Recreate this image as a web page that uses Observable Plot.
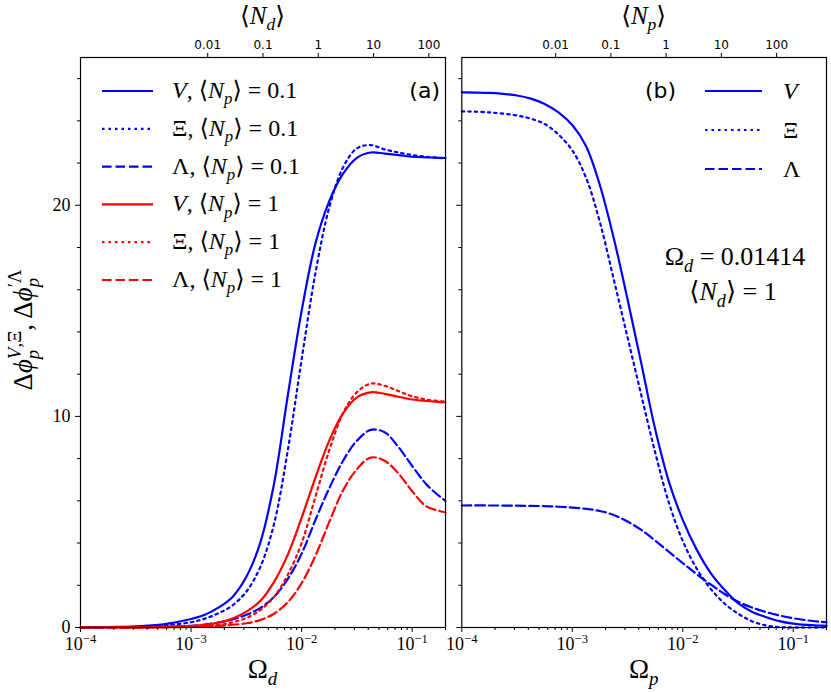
<!DOCTYPE html>
<html><head><meta charset="utf-8">
<script src="https://cdn.jsdelivr.net/npm/d3@7"></script>
<script src="https://cdn.jsdelivr.net/npm/@observablehq/plot@0.6"></script>
<style>
body{margin:0;background:#fff;}
#fig{position:relative;width:831px;height:692px;overflow:hidden;background:#fff;}
#fig svg{position:absolute;top:0;}
</style></head><body><div id="fig"></div>
<script>
// ---------------- data ----------------
// panel (a): x = log10(Omega_d)
const logOmegaA = [-4, -3.75, -3.5, -3.25, -3, -2.875, -2.75, -2.625, -2.5, -2.375, -2.25, -2.125, -2, -1.875, -1.75, -1.625, -1.5, -1.375, -1.25, -1.125, -1, -0.875, -0.75, -0.699];
const V_Np01      = [0.0, 0.02, 0.05, 0.15, 0.4, 0.6, 0.95, 1.45, 2.4, 4.0, 6.8, 11.0, 15.0, 18.2, 20.2, 21.5, 22.25, 22.5, 22.45, 22.38, 22.3, 22.27, 22.25, 22.24];
const Xi_Np01     = [0.0, 0.01, 0.03, 0.1, 0.25, 0.42, 0.68, 1.05, 1.7, 2.85, 4.9, 8.4, 12.7, 16.8, 19.9, 21.8, 22.7, 22.85, 22.65, 22.5, 22.38, 22.3, 22.24, 22.22];
const Lambda_Np01 = [0.0, 0.003, 0.01, 0.03, 0.08, 0.14, 0.24, 0.38, 0.6, 0.92, 1.45, 2.3, 3.5, 5.1, 6.6, 7.9, 8.85, 9.36, 9.25, 8.55, 7.65, 6.8, 6.2, 6.0];
const V_Np1       = [0.0, 0.002, 0.01, 0.03, 0.07, 0.13, 0.23, 0.42, 0.75, 1.25, 2.15, 3.45, 5.2, 7.1, 8.85, 10.15, 10.9, 11.14, 11.07, 10.93, 10.8, 10.73, 10.68, 10.67];
const Xi_Np1      = [0.0, 0.001, 0.005, 0.02, 0.04, 0.07, 0.12, 0.25, 0.45, 0.82, 1.45, 2.5, 4.0, 6.2, 8.4, 10.15, 11.15, 11.55, 11.45, 11.2, 10.95, 10.8, 10.72, 10.7];
const Lambda_Np1  = [0.0, 0.001, 0.003, 0.01, 0.03, 0.05, 0.08, 0.13, 0.2, 0.35, 0.65, 1.2, 2.1, 3.4, 5.0, 6.5, 7.5, 8.05, 7.9, 7.3, 6.45, 5.75, 5.52, 5.46];
// panel (b): x = log10(Omega_p)
const logOmegaB = [-4, -3.75, -3.5, -3.375, -3.25, -3.125, -3, -2.875, -2.75, -2.625, -2.5, -2.375, -2.25, -2.125, -2, -1.875, -1.75, -1.625, -1.5, -1.375, -1.25, -1.125, -1, -0.875, -0.75, -0.699];
const V_b      = [25.35, 25.32, 25.2, 25.05, 24.8, 24.4, 23.8, 22.8, 20.95, 18.45, 15.55, 12.5, 9.4, 6.9, 5.1, 3.7, 2.6, 1.8, 1.15, 0.75, 0.5, 0.3, 0.18, 0.12, 0.09, 0.08];
const Xi_b     = [24.45, 24.4, 24.25, 24.1, 23.85, 23.35, 22.6, 21.3, 19.2, 16.5, 13.75, 11.0, 8.3, 5.9, 4.1, 2.8, 1.85, 1.15, 0.66, 0.3, 0.1, 0.02, 0.0, 0.0, 0.0, 0.0];
const Lambda_b = [5.78, 5.78, 5.77, 5.76, 5.75, 5.72, 5.68, 5.62, 5.52, 5.33, 5.02, 4.62, 4.12, 3.58, 3.05, 2.53, 2.05, 1.6, 1.22, 0.95, 0.74, 0.57, 0.44, 0.34, 0.27, 0.25];
// axes
const xDomain = [1e-4, 0.2];
const yDomain = [0, 27];
const majorX = [1e-4, 1e-3, 1e-2, 1e-1];
const minorX = [2,3,4,5,6,7,8,9].flatMap(m => [1e-4, 1e-3, 1e-2, 1e-1].map(d => m * d)).filter(v => v <= 0.2);
const majorY = [0, 10, 20];
const minorY = [2, 4, 6, 8, 12, 14, 16, 18, 22, 24, 26];
const NTicks = [0.01, 0.1, 1, 10, 100];
const NTickLabels = ["0.01", "0.1", "1", "10", "100"];
const OMEGA_D_AT_ND1 = 0.01414;   // <N_d> = (Omega_d / 0.01414)^2
const OMEGA_P_AT_NP1 = 0.00707;   // <N_p> = (Omega_p / 0.00707)^2

const BLUE = "#0000ff", RED = "#ff0000";
const SOLID = null, DOTTED = "2.5,4", DASHED = "9.5,4";
const SERIF = "'Liberation Serif', 'DejaVu Serif', serif";
const SANS = "'DejaVu Sans', sans-serif";

const seriesA = [
  {y: V_Np01, color: BLUE, dash: SOLID, label: "*V*, ⟨*N*_{*p*}⟩ = 0.1"},
  {y: Xi_Np01, color: BLUE, dash: DOTTED, label: "Ξ, ⟨*N*_{*p*}⟩ = 0.1"},
  {y: Lambda_Np01, color: BLUE, dash: DASHED, label: "Λ, ⟨*N*_{*p*}⟩ = 0.1"},
  {y: V_Np1, color: RED, dash: SOLID, label: "*V*, ⟨*N*_{*p*}⟩ = 1"},
  {y: Xi_Np1, color: RED, dash: DOTTED, label: "Ξ, ⟨*N*_{*p*}⟩ = 1"},
  {y: Lambda_Np1, color: RED, dash: DASHED, label: "Λ, ⟨*N*_{*p*}⟩ = 1"}
];
const seriesB = [
  {y: V_b, color: BLUE, dash: SOLID, label: "*V*"},
  {y: Xi_b, color: BLUE, dash: DOTTED, label: "Ξ"},
  {y: Lambda_b, color: BLUE, dash: DASHED, label: "Λ"}
];

function rows(logs, ys) { return logs.map((l, i) => ({x: Math.pow(10, l), y: ys[i]})); }

function panel({width, marginLeft, logs, series, omega1, yLabels}) {
  const topTicks = NTicks.map(n => omega1 * Math.sqrt(n));
  return Plot.plot({
    width, height: 692, marginLeft, marginRight: 5, marginTop: 57, marginBottom: 65,
    style: {background: "transparent", overflow: "visible", fontFamily: SERIF},
    x: {type: "log", domain: xDomain, label: null},
    y: {domain: yDomain, label: null},
    marks: [
      ...series.map(s => Plot.line(rows(logs, s.y), {x: "x", y: "y", stroke: s.color, strokeWidth: 2.2, strokeDasharray: s.dash, curve: "catmull-rom"})),
      Plot.frame({stroke: "black", strokeWidth: 1.2}),
      Plot.axisX({anchor: "bottom", ticks: majorX, tickSize: 5, tickPadding: 5, fontSize: 18, fontFamily: SERIF,
        tickFormat: d => `10^{−${-Math.round(Math.log10(d))}}`, label: null}),
      Plot.axisX({anchor: "bottom", ticks: minorX, tickSize: 3, tickFormat: () => "", label: null}),
      Plot.axisX({anchor: "top", ticks: topTicks, tickSize: 5, tickFormat: () => "", label: null}),
      Plot.text(topTicks, {x: d => d, text: (d, i) => NTickLabels[i], frameAnchor: "top", dy: -9, lineAnchor: "bottom",
        fontSize: 12, fontFamily: SANS, fill: "black"}),
      Plot.axisY({anchor: "left", ticks: majorY, tickSize: 5, tickPadding: 5, fontSize: 18, fontFamily: SERIF,
        tickFormat: yLabels ? (d => String(d)) : (() => ""), label: null}),
      Plot.axisY({anchor: "left", ticks: minorY, tickSize: 3, tickFormat: () => "", label: null})
    ]
  });
}

// ---------------- rich text (sub/superscripts) ----------------
const svgNS = "http://www.w3.org/2000/svg";
const BRACKET_FONT = "'DejaVu Sans', sans-serif";
function parseRich(str) {
  const segs = [], groups = [];
  let italic = false, i = 0;
  function push(t, level) { if (t) segs.push({text: t, level, italic}); }
  function parse(level, inBrace) {
    let buf = "";
    while (i < str.length) {
      const c = str[i];
      if (c === "}" && inBrace) { i++; break; }
      if (c === "*") { push(buf, level); buf = ""; italic = !italic; i++; continue; }
      if ((c === "_" || c === "^") && str[i + 1] === "{") {
        push(buf, level); buf = "";
        i += 2;
        const g = {start: segs.length, type: c};
        parse(c === "^" ? 1 : -1, true);
        g.end = segs.length;
        groups.push(g);
        continue;
      }
      buf += c; i++;
    }
    push(buf, level);
  }
  parse(0, false);
  return {segs, groups};
}
function richify(el) {
  const str = el.textContent;
  if (!/[_^*⟨⟩]/.test(str)) return;
  const {segs, groups} = parseRich(str);
  el.textContent = "";
  const fs = parseFloat(getComputedStyle(el).fontSize);
  let cur = 0;
  segs.forEach(s => {
    const target = s.level === 1 ? -0.42 * fs : s.level === -1 ? 0.26 * fs : 0;
    const dy = target - cur;
    cur = target;
    s.nodes = [];
    s.text.split(/([⟨⟩])/).filter(p => p).forEach((p, k) => {
      const t = document.createElementNS(svgNS, "tspan");
      t.textContent = p;
      if (s.level) t.setAttribute("font-size", (fs * 0.7).toFixed(2));
      if (s.italic) t.setAttribute("font-style", "italic");
      if (p === "⟨" || p === "⟩") t.setAttribute("font-family", BRACKET_FONT);
      if (k === 0 && Math.abs(dy) > 1e-6) t.setAttribute("dy", dy.toFixed(2));
      el.appendChild(t);
      s.nodes.push(t);
    });
  });
  const w = g => { let s = 0; for (let k = g.start; k < g.end; k++) segs[k].nodes.forEach(n => s += n.getComputedTextLength()); return s; };
  for (let g = 1; g < groups.length; g++) {
    const A = groups[g - 1], B = groups[g];
    if (A.end === B.start && A.type !== B.type && B.end > B.start) {
      const wA = w(A), wB = w(B);
      segs[B.start].nodes[0].setAttribute("dx", (-wA).toFixed(2));
      if (wA > wB && segs[B.end]) segs[B.end].nodes[0].setAttribute("dx", (wA - wB).toFixed(2));
    }
  }
}

// ---------------- build ----------------
const fig = document.getElementById("fig");
const offB = 431;
const chartA = panel({width: 450, marginLeft: 80, logs: logOmegaA, series: seriesA, omega1: OMEGA_D_AT_ND1, yLabels: true});
const chartB = panel({width: 831 - offB, marginLeft: 461.3 - offB, logs: logOmegaB, series: seriesB, omega1: OMEGA_P_AT_NP1, yLabels: false});
chartA.style.left = "0px";
chartB.style.left = offB + "px";
fig.appendChild(chartA);
fig.appendChild(chartB);

// overlay for axis titles, legends, annotations
const ov = d3.select(fig).append("svg")
  .attr("width", 831).attr("height", 692)
  .style("left", "0px").style("pointer-events", "none");

const xa = chartA.scale("x").range, xb = chartB.scale("x").range.map(v => v + offB);
const cA = (xa[0] + xa[1]) / 2, cB = (xb[0] + xb[1]) / 2;

function label(x, y, txt, size, opts = {}) {
  const t = ov.append("text").attr("x", x).attr("y", y).attr("font-size", size)
    .attr("font-family", opts.family || SERIF)
    .attr("text-anchor", opts.anchor || "middle").attr("fill", "black").text(txt);
  if (opts.transform) t.attr("transform", opts.transform).attr("x", 0).attr("y", 0);
  return t;
}
// axis titles
label(cA, 678, "Ω_{*d*}", 27);
label(cB, 678, "Ω_{*p*}", 27);
label(cA, 23.5, "⟨*N*_{*d*}⟩", 25);
label(cB, 23.5, "⟨*N*_{*p*}⟩", 25);
label(0, 0, "Δ*ϕ*_{*p*}^{*V*,Ξ}, Δ*ϕ*^{′Λ}_{*p*}", 27, {transform: "translate(32,330) rotate(-90)"});
// panel tags
label(440, 98, "(a)", 22, {anchor: "end", family: SANS});
label(645, 98, "(b)", 22, {anchor: "start", family: SANS});
// annotation
label(735, 265, "Ω_{*d*} = 0.01414", 26);
label(733, 300, "⟨*N*_{*d*}⟩ = 1", 26);

// legends
function legend(items, x0, x1, tx, y0, dy, size, base) {
  items.forEach((s, i) => {
    const y = y0 + i * dy;
    ov.append("line").attr("x1", x0).attr("x2", x1).attr("y1", y).attr("y2", y)
      .attr("stroke", s.color).attr("stroke-width", 2.2)
      .attr("stroke-dasharray", s.dash || null);
    label(tx, y + base, s.label, size, {anchor: "start"});
  });
}
legend(seriesA, 102, 153, 172, 91, 37.8, 24, 7);
legend(seriesB, 705, 762, 783, 91, 39, 24, 8);

// convert markup to tspans
[chartA, chartB, ov.node()].forEach(svg => d3.select(svg).selectAll("text").each(function () { richify(this); }));
</script>
</body></html>
